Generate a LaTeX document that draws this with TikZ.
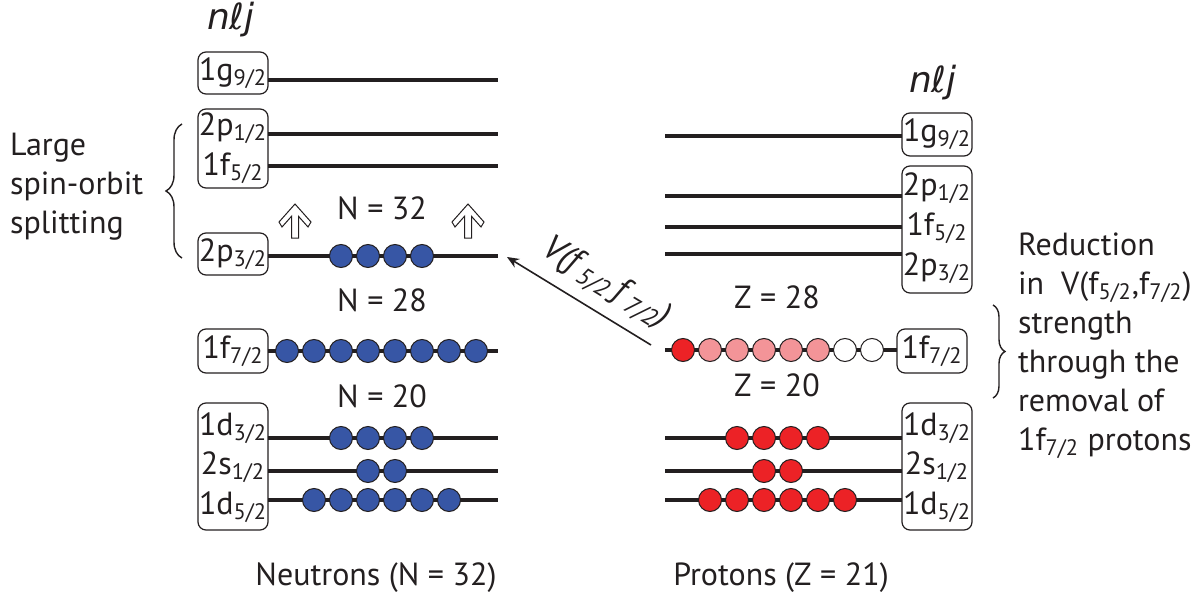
\documentclass[tikz,border=0pt]{standalone}
\usepackage{fontspec}
\setmainfont{PT Sans}
\newfontfamily\dejavu{DejaVu Sans}
\usetikzlibrary{arrows.meta, decorations.pathreplacing}

\definecolor{nblue}{RGB}{55,86,165}
\definecolor{pred}{RGB}{236,34,38}
\definecolor{ppink}{RGB}{243,148,152}
\definecolor{ink}{RGB}{35,31,32}

\tikzset{
  uparr/.pic={
    \draw[line width=0.5pt, draw=ink, fill=white]
      (0,-17) -- (16,1) -- (13,6) -- (3.5,-4.7) -- (3.5,17) -- (-3.5,17)
      -- (-3.5,-4.7) -- (-13,6) -- (-16,1) -- cycle;
  }
}

\begin{document}
\begin{tikzpicture}[
  x=0.5pt, y=-0.5pt,
  font=\fontsize{16}{19.5}\selectfont,
  every node/.style={align=center, text=ink},
  level/.style={line width=2pt, draw=ink},
  lbl/.style={inner sep=0pt},
  tag/.style={rectangle, rounded corners=4pt, draw=ink, line width=0.6pt,
              minimum width=35pt, inner sep=0pt},
  orb/.style={circle, draw=ink, line width=0.5pt, minimum size=11.5pt, inner sep=0pt},
  neu/.style={orb, fill=nblue},
  pro/.style={orb, fill=pred},
  pale/.style={orb, fill=ppink},
  hole/.style={orb, fill=white},
  nlj/.style={font=\dejavu\fontsize{18}{18}\selectfont\itshape},
  brc/.style={decorate, line width=0.7pt, draw=ink},
]
\useasboundingbox (0,0) rectangle (1200,599);

% ---------------------------------------------------------------- level lines
\foreach \y in {80,134,166,256,351,438,471,500}
  \draw[level] (268,\y) -- (498,\y);
\foreach \y in {136,196,227,254,438,471,500}
  \draw[level] (665,\y) -- (902,\y);
\draw[level] (665,350) -- (897,350);

% ------------------------------------------------------------- neutron labels
\node[nlj] (nljL) at (231,20) {nℓj};
\node[tag, minimum height=21pt] (g9L) at (233,73) {1g\textsubscript{9/2}};
\node[tag, minimum height=39.5pt] (pfL) at (233,148.5) {};
\node[lbl] (p1L) at (233,128) {2p\textsubscript{1/2}};
\node[lbl] (f5L) at (233,168) {1f\textsubscript{5/2}};
\node[tag, minimum height=21pt] (p3L) at (233,254) {2p\textsubscript{3/2}};
\node[tag, minimum height=22pt] (f7L) at (233,351) {1f\textsubscript{7/2}};
\node[tag, minimum height=63.5pt] (sdL) at (233,466.5) {};
\node[lbl] (d3L) at (233,428) {1d\textsubscript{3/2}};
\node[lbl] (s1L) at (233,467) {2s\textsubscript{1/2}};
\node[lbl] (d5L) at (233,507) {1d\textsubscript{5/2}};

% -------------------------------------------------------------- proton labels
\node[nlj] (nljR) at (933,83) {nℓj};
\node[tag, minimum height=21.5pt] (g9R) at (937,134.5) {1g\textsubscript{9/2}};
\node[tag, minimum height=63.5pt] (pfR) at (937,229.5) {};
\node[lbl] (p1R) at (937,188) {2p\textsubscript{1/2}};
\node[lbl] (f5R) at (937,228) {1f\textsubscript{5/2}};
\node[lbl] (p3R) at (937,268) {2p\textsubscript{3/2}};
\node[tag, minimum height=22pt] (f7R) at (932,351) {1f\textsubscript{7/2}};
\node[tag, minimum height=63.5pt] (sdR) at (937,466.5) {};
\node[lbl] (d3R) at (937,428) {1d\textsubscript{3/2}};
\node[lbl] (s1R) at (937,467) {2s\textsubscript{1/2}};
\node[lbl] (d5R) at (937,507) {1d\textsubscript{5/2}};

% ------------------------------------------------------------------- neutrons
\foreach \k in {2,...,5} \node[neu] (np3\k) at ({287+27*\k},256) {};
\foreach \k in {0,...,7} \node[neu] (nf7\k) at ({287+27*\k},351) {};
\foreach \k in {2,...,5} \node[neu] (nd3\k) at ({287+27*\k},438) {};
\foreach \k in {3,4}     \node[neu] (ns1\k) at ({287+27*\k},471) {};
\foreach \k in {1,...,6} \node[neu] (nd5\k) at ({287+27*\k},500) {};

% -------------------------------------------------------------------- protons
\foreach \k/\s in {0/pro,1/pale,2/pale,3/pale,4/pale,5/pale,6/hole,7/hole}
  \node[\s] (pf7\k) at ({683+27*\k},350) {};
\foreach \k in {2,...,5} \node[pro] (pd3\k) at ({683+27*\k},438) {};
\foreach \k in {3,4}     \node[pro] (ps1\k) at ({683+27*\k},471) {};
\foreach \k in {1,...,6} \node[pro] (pd5\k) at ({683+27*\k},500) {};

% -------------------------------------------------------------- shell closures
\node (n32) at (382,208) {N = 32};
\node (n28) at (382,300) {N = 28};
\node (n20) at (382,396) {N = 20};
\node (z28) at (777,297) {Z = 28};
\node (z20) at (777,385) {Z = 20};
\pic at (295,221) {uparr};
\pic at (468,221) {uparr};

% ------------------------------------------------------------ tensor arrow
\coordinate (vtail) at (651,345);
\coordinate (vtip)  at (507,257);
\draw[-{Stealth[length=6pt, width=5pt]}, line width=0.8pt, draw=ink] (vtail) -- (vtip)
  node[pos=0.42, sloped, above=2pt, font=\fontsize{17.5}{17.5}\selectfont\itshape]
  {V(f\/\textsubscript{5/2}\,f\/\textsubscript{7/2})};

% ------------------------------------------------------------ side notes
\draw[brc, decoration={brace, amplitude=8pt}] (182,258) -- (182,124);
\node[anchor=west, align=left] (split) at (3,187) {Large\\spin-orbit\\splitting};

\draw[brc, decoration={brace, amplitude=6pt}] (993,305) -- (993,398);
\node[anchor=west, align=left] (redn) at (1011,346)
  {Reduction\\in~ V(f\textsubscript{5/2},f\textsubscript{7/2})\\strength\\through the\\removal of\\1f\textsubscript{7/2} protons};

% ------------------------------------------------------------------ captions
\node (neut) at (376,578) {Neutrons (N = 32)};
\node (prot) at (781,578) {Protons (Z = 21)};

\end{tikzpicture}
\end{document}
